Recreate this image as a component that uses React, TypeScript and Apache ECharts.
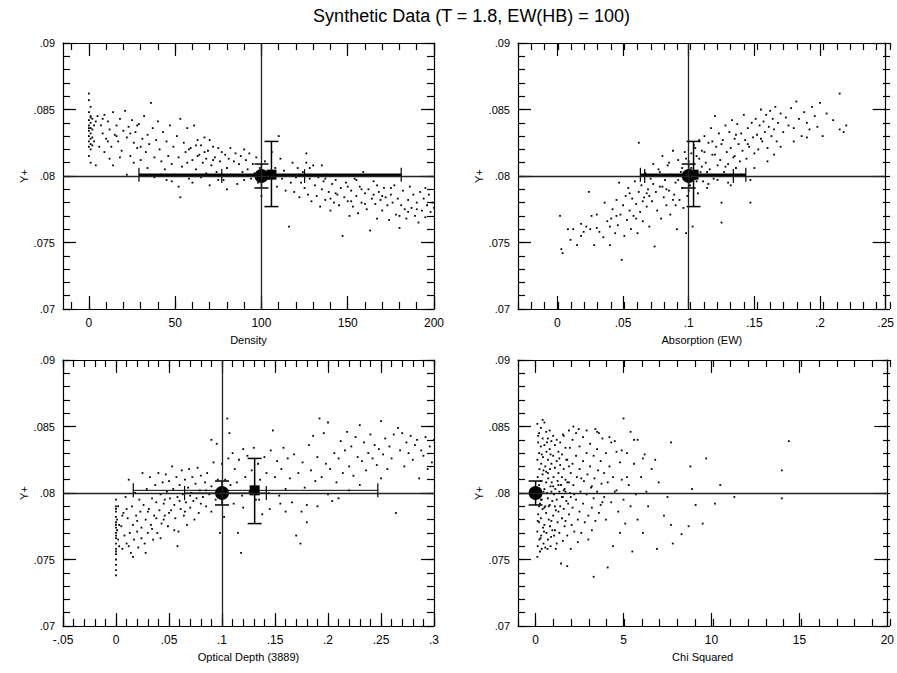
import React, { useEffect, useRef } from 'react';
import * as echarts from 'echarts';

const TITLE = 'Synthetic Data (T = 1.8, EW(HB) = 100)';
const Y_NAME = 'Y+';
const X_NAMES = ['Density', 'Absorption (EW)', 'Optical Depth (3889)', 'Chi Squared'];

// axis ranges and ticks
const X_RANGES: [number, number][] = [[-15, 200], [-0.03, 0.25], [-0.05, 0.3], [-1, 20]];
const X_MAJOR: number[][] = [
  [0, 50, 100, 150, 200],
  [0, 0.05, 0.1, 0.15, 0.2, 0.25],
  [-0.05, 0, 0.05, 0.1, 0.15, 0.2, 0.25, 0.3],
  [0, 5, 10, 15, 20],
];
const X_MINOR_STEP = [10, 0.01, 0.01, 1];
const Y_RANGE: [number, number] = [0.07, 0.09];
const Y_MAJOR = [0.07, 0.075, 0.08, 0.085, 0.09];
const Y_MINOR_STEP = 0.001;

// reference lines
const REF_X: (number | null)[] = [100, 0.1, 0.1, null];
const REF_Y = 0.08;

// fitted values: circle (input) and square (recovered)
const CIRCLES: [number, number][] = [[100, 0.08], [0.1, 0.08], [0.1, 0.08], [0, 0.08]];
const SQUARES: ([number, number] | null)[] = [[105.8, 0.0801], [0.1037, 0.0801], [0.1308, 0.0802], null];

// error bars: x, y, xlo, xhi, ylo, yhi, horizontal bar width
const ERRORS: number[][][] = [
  [[100, 0.08, 77, 125, 0.0791, 0.0809, 1], [105.8, 0.0801, 29, 181, 0.0777, 0.0826, 2.5]],
  [[0.1, 0.08, 0.0665, 0.134, 0.0791, 0.0809, 1], [0.1037, 0.0801, 0.0632, 0.1435, 0.0777, 0.0826, 2.5]],
  [[0.1, 0.08, 0.0647, 0.1418, 0.0791, 0.0809, 1], [0.1308, 0.0802, 0.0163, 0.247, 0.0777, 0.0826, 1]],
  [[0, 0.08, 0, 0, 0.0791, 0.0809, 1]],
];

const density: [number, number][] = [
  [0,.0862],[0,.0857],[1,.0852],[0,.0848],[1,.0845],[0,.0842],[1,.0840],[0,.0838],[1,.0836],[0,.0834],[1,.0832],[0,.0830],[1,.0828],[0,.0826],[1,.0824],[0,.0822],[1,.0820],[0,.0815],[1,.0810],[2,.0843],[2,.0835],[2,.0829],[3,.0838],[3,.0826],[4,.0841],[1,.0844],[0,.0836],[2,.0823],
  [5,.0845],[7,.0838],[8,.0832],[9,.0846],[10,.0828],[11,.0841],[12,.0835],[13,.0822],[14,.0848],[15,.0831],[16,.0838],[17,.0826],[18,.0843],[19,.0819],[20,.0834],[21,.0849],[22,.0829],[23,.0837],[24,.0815],[25,.0842],[26,.0825],[27,.0833],[28,.0821],[29,.0839],[30,.0812],[31,.0828],[32,.0845],[33,.0818],[34,.0831],[35,.0824],[36,.0855],[37,.0836],[38,.0814],[39,.0827],[40,.0841],
  [6,.0822],[9,.0818],[12,.0813],[4,.0808],[14,.0808],[18,.0814],[22,.0801],[26,.0810],[30,.0822],[34,.0806],[11,.0826],[16,.0830],[24,.0832],[28,.0838],[8,.0843],
  [41,.0820],[42,.0811],[43,.0833],[44,.0805],[45,.0826],[46,.0815],[47,.0838],[48,.0809],[49,.0822],[50,.0801],[51,.0830],[52,.0814],[53,.0843],[54,.0807],[55,.0825],[56,.0818],[57,.0836],[58,.0798],[59,.0821],[60,.0812],[61,.0838],[62,.0805],[63,.0827],[64,.0816],[65,.0823],[66,.0810],[67,.0829],[68,.0802],[69,.0819],[70,.0827],[71,.0808],[72,.0822],[73,.0814],[74,.0803],[75,.0821],[76,.0811],[77,.0818],[78,.0797],[79,.0816],[80,.0806],[81,.0813],[82,.0821],[83,.0800],[84,.0811],[85,.0817],[86,.0794],[87,.0809],[88,.0815],[89,.0803],[90,.0820],
  [45,.0797],[52,.0792],[53,.0784],[60,.0795],[65,.0799],[70,.0793],[75,.0797],[80,.0790],[85,.0800],[90,.0797],[38,.0799],[48,.0796],[42,.0801],[57,.0810],[63,.0815],[67,.0818],[72,.0812],[58,.0820],[62,.0823],[68,.0813],
  [91,.0812],[92,.0805],[93,.0817],[94,.0798],[95,.0809],[96,.0802],[97,.0814],[98,.0795],[99,.0806],[100,.0785],[102,.0811],[104,.0798],[106,.0818],[108,.0806],[109,.0792],[110,.0830],[111,.0813],[112,.0798],[113,.0804],[114,.0789],[115,.0800],[116,.0762],[117,.0795],[118,.0810],[119,.0788],[120,.0799],[121,.0806],[122,.0784],[123,.0795],[124,.0803],[125,.0791],[126,.0817],[127,.0786],[128,.0798],[129,.0781],[130,.0808],
  [131,.0793],[132,.0785],[133,.0799],[134,.0777],[135,.0790],[136,.0796],[137,.0782],[138,.0801],[139,.0788],[140,.0774],[141,.0794],[142,.0780],[143,.0797],[144,.0786],[145,.0778],[146,.0791],[147,.0755],[148,.0784],[149,.0795],[150,.0781],[151,.0770],[152,.0789],[153,.0777],[154,.0798],[155,.0785],[156,.0772],[157,.0792],[158,.0780],[159,.0803],[160,.0787],[161,.0775],[162,.0790],[163,.0759],[164,.0783],[165,.0796],[166,.0779],[167,.0768],[168,.0788],[169,.0782],[170,.0774],[171,.0791],[172,.0784],[173,.0778],[174,.0767],[175,.0786],[176,.0780],[177,.0793],[178,.0771],[179,.0783],[180,.0761],[181,.0778],[182,.0789],[183,.0775],[184,.0768],[185,.0782],[186,.0792],[187,.0776],[188,.0786],[189,.0770],[190,.0780],[191,.0765],[192,.0788],[193,.0774],[194,.0783],[195,.0769],[196,.0778],[197,.0786],[198,.0773],[199,.0780],[200,.0776],
  [135,.0808],[145,.0800],[155,.0797],[165,.0786],[175,.0791],[185,.0773],[195,.0791],[140,.0783],[150,.0792],[160,.0779],[170,.0785],[180,.0770],[190,.0775],[126,.0810],[128,.0806],[137,.0798],[143,.0787],[152,.0781],[158,.0790],[167,.0793],
];

const absorption: [number, number][] = [
  [.002,.0770],[.003,.0745],[.004,.0742],[.008,.0760],[.01,.0752],[.012,.0760],[.015,.0748],[.018,.0755],[.02,.0758],[.022,.0762],[.024,.0788],[.025,.0760],[.026,.0770],[.028,.0748],[.03,.0761],[.032,.0758],[.035,.0754],[.036,.0780],[.038,.0766],[.04,.0748],[.041,.0768],[.042,.0775],[.044,.0757],[.045,.0782],[.046,.0763],[.047,.0795],[.048,.0771],[.049,.0737],[.05,.0778],[.051,.0755],[.052,.0785],[.053,.0767],[.054,.0791],[.055,.0774],[.056,.0760],[.057,.0783],[.058,.0770],[.059,.0796],[.06,.0779],[.061,.0757],[.062,.0788],[.062,.0825],[.063,.0773],[.064,.0793],[.065,.0766],[.066,.0784],[.067,.0802],[.068,.0777],[.069,.0790],[.07,.0762],[.071,.0798],[.072,.0781],[.073,.0809],[.074,.0747],[.075,.0788],[.076,.0774],[.077,.0805],[.078,.0792],[.079,.0768],[.08,.0815],[.081,.0784],[.082,.0797],[.083,.0778],[.084,.0808],[.085,.0789],[.086,.0771],[.087,.0801],[.088,.0819],[.089,.0786],[.09,.0795],[.091,.0760],[.092,.0812],[.093,.0782],[.094,.0803],[.095,.0791],[.096,.0776],[.097,.0818],[.098,.0800],[.099,.0785],[.1,.0811],[.101,.0793],[.102,.0806],[.103,.0762],[.104,.0823],[.105,.0798],[.106,.0815],[.107,.0787],[.108,.0827],[.109,.0803],[.11,.0819],[.111,.0796],[.112,.0830],[.113,.0810],[.114,.0791],[.115,.0825],[.116,.0805],[.117,.0836],[.118,.0816],[.119,.0798],[.12,.0845],[.121,.0822],[.122,.0808],[.123,.0832],[.124,.0812],[.125,.0780],[.126,.0827],[.127,.0803],[.128,.0838],[.129,.0818],[.13,.0809],[.131,.0833],[.132,.0821],[.133,.0842],[.134,.0814],[.135,.0828],[.136,.0806],[.137,.0839],[.138,.0824],[.139,.0811],[.14,.0832],[.141,.0819],[.142,.0846],[.143,.0827],[.144,.0813],[.145,.0836],[.146,.0822],[.147,.0797],[.148,.0840],[.149,.0829],[.15,.0817],[.151,.0843],[.152,.0831],[.153,.0820],[.154,.0838],[.155,.0850],[.156,.0826],[.157,.0841],[.158,.0833],[.159,.0846],[.16,.0821],[.161,.0837],[.162,.0849],[.163,.0830],[.164,.0843],[.165,.0835],[.166,.0852],[.167,.0826],[.168,.0840],[.17,.0847],[.172,.0833],[.174,.0844],[.176,.0838],[.178,.0851],[.18,.0836],[.182,.0856],[.184,.0843],[.186,.0830],[.188,.0848],[.19,.0840],[.192,.0835],[.194,.0852],[.196,.0845],[.198,.0837],[.2,.0855],[.202,.0830],[.205,.0847],[.21,.0842],[.215,.0862],[.215,.0835],[.218,.0833],[.22,.0838],
  [.07,.0785],[.075,.0800],[.08,.0792],[.085,.0810],[.09,.0778],[.095,.0806],[.1,.0789],[.105,.0821],[.11,.0807],[.115,.0794],[.12,.0816],[.125,.0824],[.13,.0795],[.135,.0815],[.14,.0801],[.145,.0824],[.088,.0782],[.092,.0797],[.098,.0813],[.102,.0817],[.106,.0796],[.112,.0818],[.118,.0826],[.122,.0797],[.128,.0807],[.132,.0793],[.136,.0831],[.06,.0768],[.065,.0781],[.055,.0787],[.045,.0770],[.04,.0762],[.03,.0771],[.018,.0764],[.125,.0765],[.147,.0780],[.15,.0806],[.16,.0811],[.17,.0822],[.18,.0826],[.19,.0829],[.165,.0816],[.155,.0828],[.098,.0757],[.1,.0826],[.083,.0790],[.078,.0803],[.073,.0794],[.068,.0787],[.108,.0813],[.114,.0803],
];

const optical: [number, number][] = [
  [0,.0795],[0,.0790],[0,.0786],[0,.0782],[0,.0778],[0,.0774],[0,.0770],[0,.0766],[0,.0762],[0,.0758],[0,.0754],[0,.0750],[0,.0746],[0,.0742],[0,.0738],[0,.0788],[0,.0776],[0,.0768],[0,.0756],[.001,.0780],[.001,.0772],[.002,.0765],[.002,.0790],[.003,.0760],
  [.005,.0775],[.006,.0758],[.007,.0785],[.008,.0768],[.009,.0797],[.01,.0762],[.011,.0781],[.012,.0810],[.013,.0770],[.014,.0755],[.015,.0790],[.016,.0776],[.017,.0765],[.018,.0800],[.019,.0783],[.02,.0771],[.021,.0759],[.022,.0795],[.023,.0786],[.024,.0774],[.025,.0815],[.026,.0791],[.027,.0762],[.028,.0780],[.029,.0803],[.03,.0770],[.031,.0788],[.032,.0812],[.033,.0776],[.034,.0796],[.035,.0765],[.036,.0783],[.037,.0806],[.038,.0793],[.039,.0770],[.04,.0815],[.041,.0787],[.042,.0799],[.043,.0777],[.044,.0808],[.045,.0792],[.046,.0783],[.047,.0814],[.048,.0801],[.049,.0775],[.05,.0809],[.051,.0796],[.052,.0787],[.053,.0820],[.054,.0803],[.055,.0791],[.056,.0781],[.057,.0812],[.058,.0797],[.059,.0771],[.06,.0806],[.061,.0788],[.062,.0817],[.063,.0799],[.064,.0783],[.065,.0810],[.066,.0793],[.067,.0776],[.068,.0804],[.069,.0818],[.07,.0789],[.071,.0800],[.072,.0812],[.073,.0794],[.074,.0780],[.075,.0807],[.076,.0796],[.077,.0819],[.078,.0785],[.079,.0802],[.08,.0813],[.082,.0797],[.084,.0808],[.085,.0790],[.086,.0815],[.088,.0799],[.09,.0840],[.09,.0805],[.092,.0823],[.094,.0795],[.095,.0837],[.096,.0810],[.098,.0770],[.1,.0822],[.102,.0782],[.103,.0810],[.105,.0856],[.106,.0826],[.107,.0845],[.108,.0806],[.11,.0830],[.111,.0792],[.112,.0818],[.114,.0808],[.115,.0770],[.116,.0825],[.118,.0755],[.119,.0798],[.12,.0833],[.122,.0812],[.124,.0828],[.126,.0801],[.128,.0817],[.13,.0834],[.132,.0795],[.134,.0822],[.136,.0810],[.138,.0784],[.14,.0827],[.142,.0815],[.144,.0800],[.146,.0832],[.148,.0847],[.15,.0812],[.152,.0824],[.154,.0798],[.156,.0818],[.158,.0834],[.16,.0803],[.162,.0826],[.164,.0811],[.166,.0793],[.168,.0829],[.17,.0768],[.172,.0815],[.174,.0762],[.176,.0823],[.178,.0804],[.18,.0791],[.182,.0836],[.184,.0817],[.186,.0843],[.188,.0809],[.19,.0827],[.192,.0856],[.194,.0812],[.196,.0845],[.198,.0822],[.2,.0853],[.202,.0818],[.204,.0794],[.206,.0830],[.208,.0808],[.21,.0826],[.212,.0839],[.214,.0815],[.216,.0832],[.218,.0846],[.22,.0820],[.222,.0835],[.224,.0813],[.226,.0842],[.228,.0827],[.23,.0851],[.232,.0824],[.234,.0838],[.236,.0817],[.238,.0830],[.24,.0844],[.242,.0826],[.244,.0836],[.246,.0821],[.248,.0833],[.25,.0854],[.252,.0829],[.254,.0841],[.256,.0818],[.258,.0835],[.26,.0826],[.262,.0844],[.264,.0785],[.266,.0849],[.268,.0832],[.27,.0845],[.272,.0820],[.274,.0838],[.276,.0830],[.278,.0843],[.28,.0825],[.282,.0836],[.284,.0840],[.286,.0811],[.288,.0832],[.29,.0828],[.292,.0842],[.294,.0818],[.296,.0835],[.298,.0823],[.3,.0840],
  [.003,.0776],[.006,.0783],[.01,.0788],[.012,.0760],[.016,.0752],[.02,.0779],[.024,.0766],[.028,.0755],[.03,.0786],[.034,.0773],[.038,.0781],[.042,.0766],[.046,.0795],[.05,.0785],[.055,.0772],[.06,.0794],[.065,.0786],[.07,.0798],[.08,.0792],[.085,.0802],[.09,.0786],[.095,.0800],[.058,.0760],[.045,.0780],
  [.12,.0789],[.135,.0795],[.145,.0788],[.155,.0792],[.16,.0786],[.175,.0786],[.18,.0778],[.19,.0790],[.2,.0799],[.21,.0796],[.22,.0802],[.23,.0806],[.25,.0811],
];

const chiSquared: [number, number][] = [
  [0.1,.0852],[0.15,.0838],[0.1,.0825],[0.12,.0812],[0.1,.0798],[0.15,.0784],[0.1,.0771],[0.12,.0760],[0.1,.0752],[0.2,.0845],[0.2,.0830],[0.22,.0818],[0.2,.0806],[0.25,.0792],[0.2,.0778],[0.22,.0765],[0.25,.0756],[0.3,.0849],[0.3,.0835],[0.32,.0822],[0.3,.0809],[0.35,.0795],[0.3,.0781],[0.32,.0768],[0.35,.0758],[0.4,.0855],[0.4,.0841],[0.42,.0827],[0.4,.0814],[0.45,.0801],[0.4,.0788],[0.42,.0774],[0.45,.0762],[0.5,.0853],[0.5,.0836],[0.55,.0820],[0.5,.0803],[0.55,.0790],[0.5,.0776],[0.55,.0759],[0.6,.0846],[0.62,.0831],[0.6,.0816],[0.65,.0800],[0.6,.0785],[0.62,.0770],[0.7,.0841],[0.7,.0825],[0.72,.0811],[0.7,.0796],[0.75,.0780],[0.7,.0765],[0.8,.0847],[0.8,.0833],[0.82,.0818],[0.85,.0805],[0.8,.0791],[0.82,.0775],[0.85,.0760],[0.9,.0839],[0.9,.0822],[0.92,.0808],[0.95,.0794],[0.9,.0779],[1.0,.0843],[1.0,.0828],[1.02,.0812],[1.05,.0799],[1.0,.0783],[1.05,.0768],[1.1,.0836],[1.1,.0819],[1.12,.0803],[1.15,.0787],[1.1,.0772],[1.2,.0840],[1.2,.0824],[1.25,.0809],[1.2,.0795],[1.25,.0778],[1.2,.0762],[1.3,.0831],[1.3,.0815],[1.35,.0801],[1.3,.0786],[1.35,.0770],[1.4,.0838],[1.4,.0821],[1.45,.0806],[1.4,.0790],[1.45,.0747],[1.5,.0829],[1.5,.0812],[1.55,.0797],[1.5,.0781],[1.55,.0764],[1.6,.0843],[1.6,.0818],[1.65,.0803],[1.6,.0788],[1.65,.0775],[1.7,.0834],[1.7,.0810],[1.75,.0794],[1.7,.0779],[1.8,.0825],[1.8,.0808],[1.85,.0792],[1.8,.0768],[1.8,.0745],[1.9,.0847],[1.9,.0820],[1.95,.0800],[1.9,.0784],[2.0,.0815],[2.0,.0797],[2.05,.0776],[2.0,.0758],[2.1,.0840],[2.1,.0822],[2.15,.0806],[2.1,.0789],[2.2,.0771],[2.3,.0845],[2.3,.0828],[2.35,.0812],[2.3,.0795],[2.4,.0780],[2.4,.0763],[2.5,.0835],[2.5,.0818],[2.55,.0801],[2.5,.0786],[2.6,.0770],[2.7,.0842],[2.7,.0824],[2.75,.0809],[2.7,.0792],[2.8,.0778],[2.9,.0847],[2.9,.0830],[2.95,.0814],[2.9,.0799],[3.0,.0783],[3.0,.0765],[3.1,.0837],[3.1,.0820],[3.15,.0804],[3.2,.0789],[3.2,.0772],[3.3,.0828],[3.35,.0811],[3.3,.0796],[3.4,.0779],[3.3,.0737],[3.5,.0846],[3.5,.0833],[3.55,.0817],[3.5,.0801],[3.6,.0785],[3.7,.0824],[3.75,.0807],[3.7,.0791],[3.8,.0841],[3.9,.0815],[3.9,.0797],[4.0,.0830],[4.0,.0780],[4.1,.0808],[4.1,.0744],[4.2,.0842],[4.2,.0820],[4.3,.0793],[4.4,.0812],[4.4,.0760],[4.5,.0839],[4.6,.0802],[4.7,.0786],[4.8,.0823],[4.8,.0770],[4.9,.0810],[5.0,.0856],[5.0,.0795],[5.1,.0777],[5.2,.0830],[5.3,.0806],[5.4,.0846],[5.4,.0790],[5.5,.0756],[5.6,.0822],[5.7,.0799],[5.8,.0840],[5.8,.0780],[6.0,.0812],[6.1,.0770],[6.2,.0829],[6.3,.0801],[6.4,.0790],[6.6,.0818],[6.8,.0825],[6.9,.0758],[7.0,.0808],[7.3,.0783],[7.5,.0797],[7.7,.0838],[7.7,.0776],[7.8,.0762],[8.3,.0769],[8.7,.0775],[8.8,.0820],[8.9,.0803],[9.1,.0791],[9.5,.0777],[9.7,.0826],[10.2,.0792],[10.5,.0806],[11.3,.0797],[14.0,.0817],[14.0,.0796],[14.4,.0839],
  [6.1,.0826],[5.2,.0812],[4.5,.0801],[3.8,.0793],[3.2,.0805],[2.6,.0811],[2.2,.0799],[1.6,.0802],[1.0,.0805],[0.6,.0808],[0.25,.0801],[0.2,.0790],[0.3,.0795],[0.5,.0789],[0.7,.0815],[0.9,.0801],[1.1,.0790],[1.3,.0806],[1.5,.0797],[1.7,.0801],[1.9,.0808],[0.15,.0843],[0.35,.0829],[0.45,.0817],[0.65,.0838],[0.75,.0790],[0.85,.0829],[0.95,.0772],[0.12,.0779],[0.28,.0766],[0.48,.0771],[0.68,.0758],[0.88,.0767],[1.15,.0758],[1.35,.0826],[1.55,.0844],[1.75,.0825],[1.95,.0834],[2.15,.0850],[2.45,.0848],[3.4,.0848],[3.6,.0845],[4.3,.0838],[4.6,.0831],[5.6,.0840],[4.9,.0832],
];

const PANELS = [density, absorption, optical, chiSquared];

const GRID_RECTS = [
  { left: 63, top: 43, width: 371, height: 266 },
  { left: 518, top: 43, width: 372, height: 266 },
  { left: 63, top: 360, width: 371, height: 266 },
  { left: 518, top: 360, width: 372, height: 266 },
];

const FONT = '"Liberation Sans", Arial, Helvetica, sans-serif';

function steps(min: number, max: number, step: number): number[] {
  const out: number[] = [];
  const n0 = Math.ceil(min / step - 1e-9);
  const n1 = Math.floor(max / step + 1e-9);
  for (let i = n0; i <= n1; i++) out.push(Math.round(i * step * 1e6) / 1e6);
  return out;
}

function fmt(v: number): string {
  const r = Math.round(v * 10000) / 10000;
  return String(r).replace(/^(-?)0\./, '$1.');
}

function buildOption() {
  const grids: any[] = [];
  const xAxes: any[] = [];
  const yAxes: any[] = [];
  const series: any[] = [];
  const lineStyle = { color: '#000', width: 1.2 };

  for (let g = 0; g < 4; g++) grids.push({ ...GRID_RECTS[g], containLabel: false });
  for (let g = 0; g < 4; g++) grids.push({ ...GRID_RECTS[g], containLabel: false });

  for (let g = 0; g < 4; g++) {
    const [xmin, xmax] = X_RANGES[g];
    const base = { type: 'value', min: xmin, max: xmax, splitLine: { show: false } };
    xAxes.push({
      ...base, gridIndex: g, position: 'bottom',
      axisLine: { show: true, onZero: false, lineStyle },
      axisTick: { show: true, inside: true, length: 13, customValues: X_MAJOR[g], lineStyle },
      axisLabel: { show: true, customValues: X_MAJOR[g], formatter: (v: number) => fmt(v), margin: 8, color: '#000', fontSize: 12, fontFamily: FONT },
      name: X_NAMES[g], nameLocation: 'middle', nameGap: 25,
      nameTextStyle: { color: '#000', fontSize: 11, fontFamily: FONT },
    });
    xAxes.push({
      ...base, gridIndex: g, position: 'top',
      axisLine: { show: true, onZero: false, lineStyle },
      axisTick: { show: true, inside: true, length: 13, customValues: X_MAJOR[g], lineStyle },
      axisLabel: { show: false },
    });
    yAxes.push({
      type: 'value', min: Y_RANGE[0], max: Y_RANGE[1], splitLine: { show: false }, gridIndex: g, position: 'left',
      axisLine: { show: true, onZero: false, lineStyle },
      axisTick: { show: true, inside: true, length: 13, customValues: Y_MAJOR, lineStyle },
      axisLabel: { show: true, customValues: Y_MAJOR, formatter: (v: number) => fmt(v), margin: 8, color: '#000', fontSize: 11, fontFamily: FONT },
      name: Y_NAME, nameLocation: 'middle', nameGap: 33,
      nameTextStyle: { color: '#000', fontSize: 11, fontFamily: FONT },
    });
    yAxes.push({
      type: 'value', min: Y_RANGE[0], max: Y_RANGE[1], splitLine: { show: false }, gridIndex: g, position: 'right',
      axisLine: { show: true, onZero: false, lineStyle },
      axisTick: { show: true, inside: true, length: 13, customValues: Y_MAJOR, lineStyle },
      axisLabel: { show: false },
    });
  }
  for (let g = 0; g < 4; g++) {
    const [xmin, xmax] = X_RANGES[g];
    const minorX = steps(xmin, xmax, X_MINOR_STEP[g]);
    const minorY = steps(Y_RANGE[0], Y_RANGE[1], Y_MINOR_STEP);
    const gi = 4 + g;
    for (const pos of ['bottom', 'top']) {
      xAxes.push({
        type: 'value', min: xmin, max: xmax, gridIndex: gi, position: pos, splitLine: { show: false },
        axisLine: { show: false, onZero: false },
        axisTick: { show: true, inside: true, length: 7, customValues: minorX, lineStyle },
        axisLabel: { show: false },
      });
    }
    for (const pos of ['left', 'right']) {
      yAxes.push({
        type: 'value', min: Y_RANGE[0], max: Y_RANGE[1], gridIndex: gi, position: pos, splitLine: { show: false },
        axisLine: { show: false, onZero: false },
        axisTick: { show: true, inside: true, length: 7, customValues: minorY, lineStyle },
        axisLabel: { show: false },
      });
    }
  }

  for (let g = 0; g < 4; g++) {
    const xi = 2 * g;
    const yi = 2 * g;
    const markData: any[] = [{ yAxis: REF_Y }];
    if (REF_X[g] !== null) markData.push({ xAxis: REF_X[g] });
    series.push({
      type: 'scatter', xAxisIndex: xi, yAxisIndex: yi, data: PANELS[g],
      symbol: 'rect', symbolSize: 1.8, itemStyle: { color: '#000', opacity: 1 }, silent: true, z: 2,
      markLine: {
        silent: true, symbol: ['none', 'none'], label: { show: false },
        lineStyle: { color: '#222', width: 1.3, type: 'solid', opacity: 1 }, data: markData,
      },
    });
    series.push({
      type: 'custom', xAxisIndex: xi, yAxisIndex: yi, data: ERRORS[g], z: 3, silent: true,
      encode: { x: 0, y: 1 },
      renderItem: (params: any, api: any) => {
        const x = api.value(0), y = api.value(1);
        const xlo = api.value(2), xhi = api.value(3), ylo = api.value(4), yhi = api.value(5), w = api.value(6);
        const c = api.coord([x, y]);
        const cap = 7;
        const st = (lw: number) => ({ stroke: '#000', lineWidth: lw });
        const children: any[] = [];
        if (xhi > xlo) {
          const a = api.coord([xlo, y]);
          const b = api.coord([xhi, y]);
          children.push({ type: 'line', shape: { x1: a[0], y1: c[1], x2: b[0], y2: c[1] }, style: st(w) });
          children.push({ type: 'line', shape: { x1: a[0], y1: c[1] - cap, x2: a[0], y2: c[1] + cap }, style: st(1.2) });
          children.push({ type: 'line', shape: { x1: b[0], y1: c[1] - cap, x2: b[0], y2: c[1] + cap }, style: st(1.2) });
        }
        if (yhi > ylo) {
          const lo = api.coord([x, ylo]);
          const hi = api.coord([x, yhi]);
          children.push({ type: 'line', shape: { x1: c[0], y1: hi[1], x2: c[0], y2: lo[1] }, style: st(1.5) });
          children.push({ type: 'line', shape: { x1: c[0] - cap, y1: hi[1], x2: c[0] + cap, y2: hi[1] }, style: st(1.5) });
          children.push({ type: 'line', shape: { x1: c[0] - cap, y1: lo[1], x2: c[0] + cap, y2: lo[1] }, style: st(1.5) });
        }
        return { type: 'group', children };
      },
    });
    series.push({
      type: 'scatter', xAxisIndex: xi, yAxisIndex: yi, data: [CIRCLES[g]],
      symbol: 'circle', symbolSize: 14, itemStyle: { color: '#000', opacity: 1 }, silent: true, z: 4,
    });
    const sq = SQUARES[g];
    if (sq) {
      series.push({
        type: 'scatter', xAxisIndex: xi, yAxisIndex: yi, data: [sq],
        symbol: 'rect', symbolSize: 10, itemStyle: { color: '#000', opacity: 1 }, silent: true, z: 4,
      });
    }
  }

  return {
    animation: false,
    backgroundColor: '#fff',
    textStyle: { fontFamily: FONT },
    grid: grids,
    xAxis: xAxes,
    yAxis: yAxes,
    series,
    graphic: [
      {
        type: 'text', x: 471.5, y: 16,
        style: { text: TITLE, fill: '#000', font: `18px ${FONT}`, textAlign: 'center', textVerticalAlign: 'middle' },
      },
    ],
  };
}

export default function App() {
  const ref = useRef<HTMLDivElement>(null);
  useEffect(() => {
    if (!ref.current) return;
    const chart = echarts.init(ref.current, undefined, { renderer: 'svg' });
    chart.setOption(buildOption() as any);
    return () => chart.dispose();
  }, []);
  return (
    <div
      ref={ref}
      style={{ position: 'absolute', left: 0, top: 0, width: 897, height: 673, background: '#fff' }}
    />
  );
}
